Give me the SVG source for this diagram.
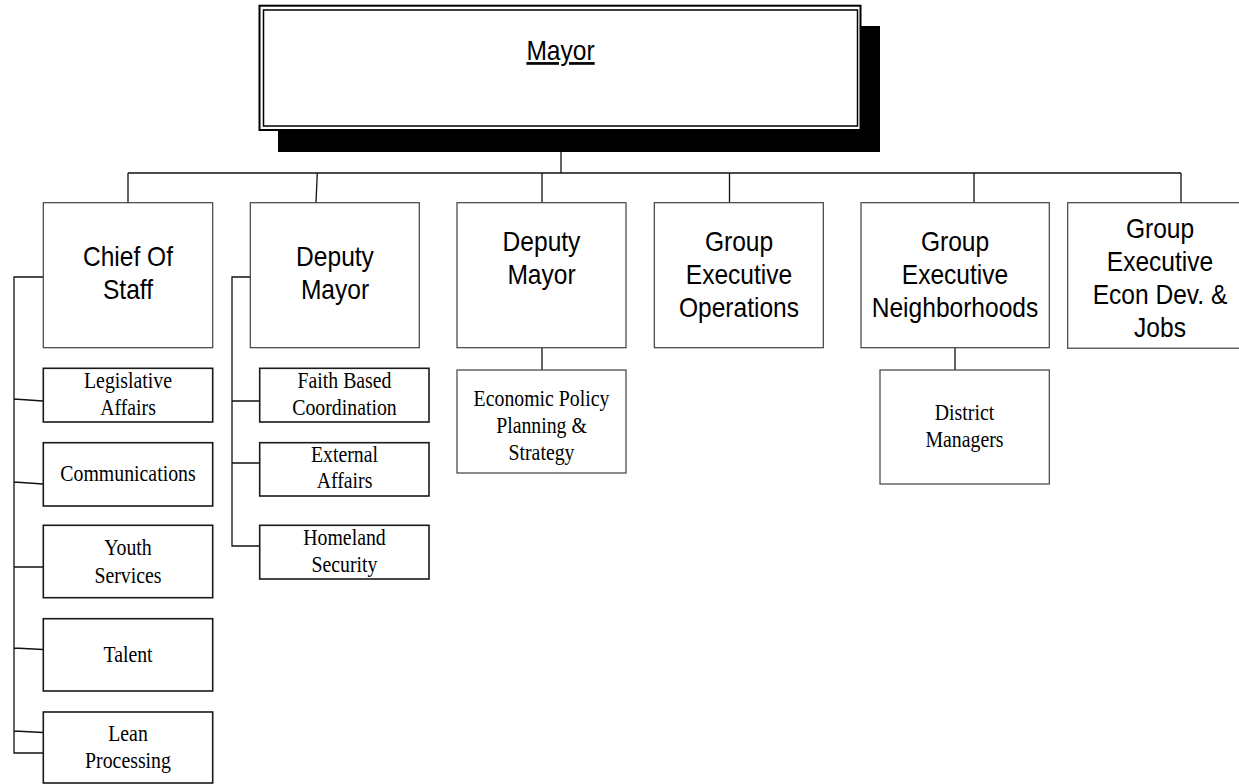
<svg xmlns="http://www.w3.org/2000/svg" width="1239" height="784" viewBox="0 0 1239 784">
<style>
.bg{fill:#fff}
.box{fill:#fff;stroke:#404040;stroke-width:1.2}
.sub{fill:#fff;stroke:#1a1a1a;stroke-width:1.6}
.subl{fill:#fff;stroke:#404040;stroke-width:1.2}
.a{font-family:"Liberation Sans",Arial,sans-serif;font-size:27px;fill:#000;text-anchor:middle}
.s{font-family:"Liberation Serif","Times New Roman",serif;font-size:22.5px;fill:#000;text-anchor:middle}
.ln{fill:none;stroke:#111;stroke-width:1.3}
</style>
<rect class="bg" x="0" y="0" width="1239" height="784"/>
<g id="connectors">
<path class="ln" d="M561 152V173M128 173H1181M128 173V203M317.3 173L316 203M542 173V203M729.5 173V203M974 173V203M1181 173V203"/>
<path class="ln" d="M43 277H14V753H43M14 399L43 401M14 482L43 484M14 567H43M14 648L43 649.5M14 731L43 732.5"/>
<path class="ln" d="M250 277H232V546H260M232 401H260M232 463H260"/>
<path class="ln" d="M542 348V370M955 348V370"/>
</g>
<g id="mayor">
<rect x="278" y="26" width="602" height="126" fill="#000"/>
<rect x="259.5" y="5.7" width="601" height="124.3" fill="#fff" stroke="#000" stroke-width="2"/>
<rect x="263.5" y="10" width="594" height="116" fill="none" stroke="#000" stroke-width="1.5"/>
<text class="a" text-decoration="underline" transform="translate(560.5 0) scale(0.91 1)" x="0" y="60">Mayor</text>
</g>
<g id="chief-of-staff">
<rect class="box" x="43.3" y="202.7" width="169.4" height="145"/>
<text class="a" transform="translate(128 0) scale(0.91 1)"><tspan x="0" y="266">Chief Of</tspan><tspan x="0" y="299">Staff</tspan></text>
</g>
<g id="deputy-mayor-1">
<rect class="box" x="250.3" y="202.7" width="169" height="145"/>
<text class="a" transform="translate(335 0) scale(0.91 1)"><tspan x="0" y="266">Deputy</tspan><tspan x="0" y="299">Mayor</tspan></text>
</g>
<g id="deputy-mayor-2">
<rect class="box" x="457" y="202.7" width="169" height="145"/>
<text class="a" transform="translate(541.5 0) scale(0.91 1)"><tspan x="0" y="251">Deputy</tspan><tspan x="0" y="284">Mayor</tspan></text>
</g>
<g id="group-exec-operations">
<rect class="box" x="654.3" y="202.7" width="169" height="145"/>
<text class="a" transform="translate(739 0) scale(0.91 1)"><tspan x="0" y="251">Group</tspan><tspan x="0" y="284">Executive</tspan><tspan x="0" y="317">Operations</tspan></text>
</g>
<g id="group-exec-neighborhoods">
<rect class="box" x="861" y="202.7" width="188.3" height="145"/>
<text class="a" transform="translate(955 0) scale(0.91 1)"><tspan x="0" y="251">Group</tspan><tspan x="0" y="284">Executive</tspan><tspan x="0" y="317">Neighborhoods</tspan></text>
</g>
<g id="group-exec-econ">
<rect class="box" x="1067.7" y="202.7" width="190" height="145.5"/>
<text class="a" transform="translate(1160 0) scale(0.91 1)"><tspan x="0" y="238">Group</tspan><tspan x="0" y="271.5">Executive</tspan><tspan x="0" y="304.5">Econ Dev. &amp;</tspan><tspan x="0" y="337">Jobs</tspan></text>
</g>
<g id="legislative-affairs">
<rect class="sub" x="43.3" y="368.3" width="169.4" height="53.7"/>
<text class="s" transform="translate(128 0) scale(0.88 1)"><tspan x="0" y="388">Legislative</tspan><tspan x="0" y="415">Affairs</tspan></text>
</g>
<g id="communications">
<rect class="sub" x="43.3" y="442.7" width="169.4" height="63.3"/>
<text class="s" transform="translate(128 0) scale(0.88 1)" x="0" y="481">Communications</text>
</g>
<g id="youth-services">
<rect class="sub" x="43.3" y="525.3" width="169.4" height="72.4"/>
<text class="s" transform="translate(128 0) scale(0.88 1)"><tspan x="0" y="555">Youth</tspan><tspan x="0" y="583">Services</tspan></text>
</g>
<g id="talent">
<rect class="sub" x="43.3" y="618.7" width="169.4" height="72.3"/>
<text class="s" transform="translate(128 0) scale(0.88 1)" x="0" y="662">Talent</text>
</g>
<g id="lean-processing">
<rect class="sub" x="43.3" y="712" width="169.4" height="71"/>
<text class="s" transform="translate(128 0) scale(0.88 1)"><tspan x="0" y="741">Lean</tspan><tspan x="0" y="768">Processing</tspan></text>
</g>
<g id="faith-based">
<rect class="sub" x="259.7" y="368.3" width="169.3" height="53.7"/>
<text class="s" transform="translate(344.5 0) scale(0.88 1)"><tspan x="0" y="388">Faith Based</tspan><tspan x="0" y="415">Coordination</tspan></text>
</g>
<g id="external-affairs">
<rect class="sub" x="259.7" y="442.7" width="169.3" height="53.3"/>
<text class="s" transform="translate(344.5 0) scale(0.88 1)"><tspan x="0" y="462">External</tspan><tspan x="0" y="488">Affairs</tspan></text>
</g>
<g id="homeland-security">
<rect class="sub" x="259.7" y="525.3" width="169.3" height="53.7"/>
<text class="s" transform="translate(344.5 0) scale(0.88 1)"><tspan x="0" y="545">Homeland</tspan><tspan x="0" y="572">Security</tspan></text>
</g>
<g id="economic-policy">
<rect class="subl" x="457" y="370" width="169" height="103"/>
<text class="s" transform="translate(541.5 0) scale(0.88 1)"><tspan x="0" y="406.5">Economic Policy</tspan><tspan x="0" y="433.5">Planning &amp;</tspan><tspan x="0" y="460">Strategy</tspan></text>
</g>
<g id="district-managers">
<rect class="subl" x="880" y="370" width="169.3" height="114"/>
<text class="s" transform="translate(964.5 0) scale(0.88 1)"><tspan x="0" y="420">District</tspan><tspan x="0" y="447">Managers</tspan></text>
</g>
</svg>
